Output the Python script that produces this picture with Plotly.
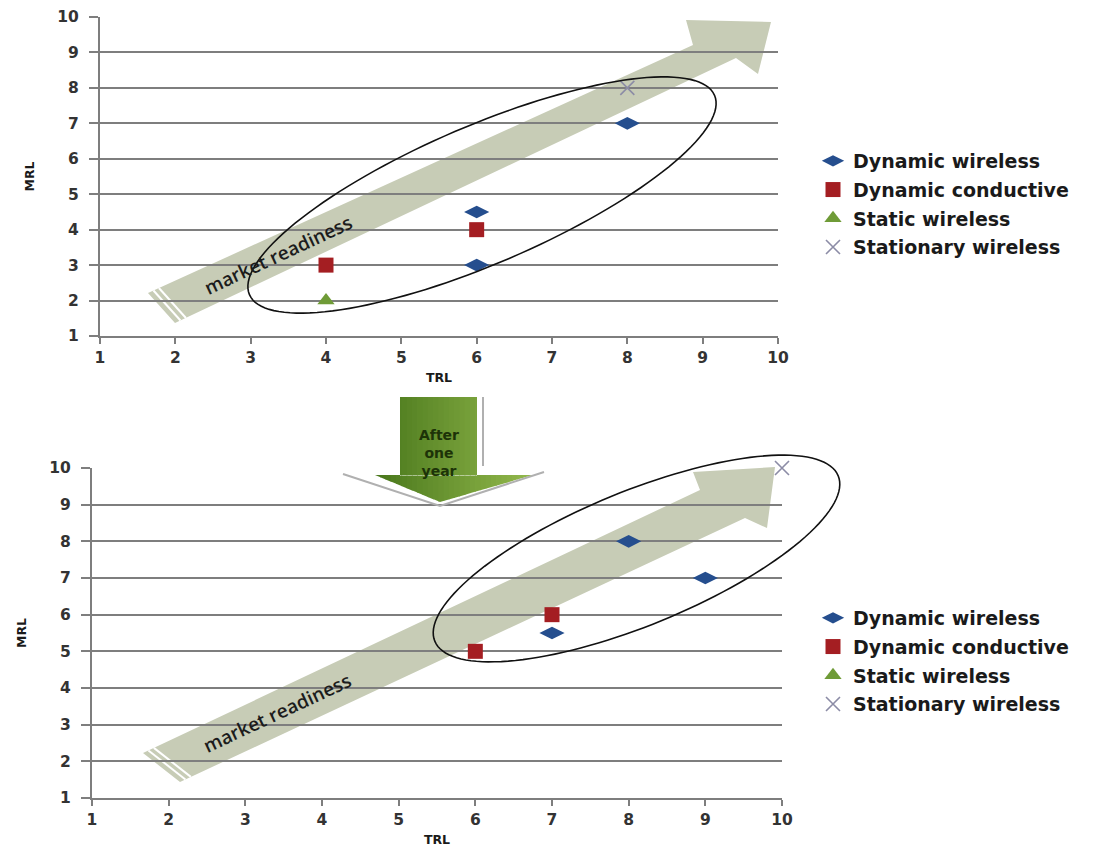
import math
import plotly.graph_objects as go

W, H = 1095, 857
OFF = 8  # page body margin of the browser

# ---------------- data ----------------
series_names = ["Dynamic wireless", "Dynamic conductive", "Static wireless", "Stationary wireless"]

# before (top chart)
top_dyn_wireless_trl = [6, 6, 8]
top_dyn_wireless_mrl = [4.5, 3, 7]
top_dyn_conductive_trl = [4, 6]
top_dyn_conductive_mrl = [3, 4]
top_static_wireless_trl = [4]
top_static_wireless_mrl = [2]
top_stationary_wireless_trl = [8]
top_stationary_wireless_mrl = [8]

# after one year (bottom chart)
bot_dyn_wireless_trl = [7, 8, 9]
bot_dyn_wireless_mrl = [5.5, 8, 7]
bot_dyn_conductive_trl = [6, 7]
bot_dyn_conductive_mrl = [5, 6]
bot_static_wireless_trl = []
bot_static_wireless_mrl = []
bot_stationary_wireless_trl = [10]
bot_stationary_wireless_mrl = [10]

tick_values = list(range(1, 11))
axis_range = [1, 10]

# ---------------- styles ----------------
symbols = ["diamond-wide", "square", "triangle-up", "x-thin"]
sizes = [18, 15, 15, 14]
colors = ["#254e8e", "#a41e22", "#6f9b37", "#8c8ca6"]
FONT = "DejaVu Sans"

# plot areas in pixels (left, right, top, bottom)
TOP_AREA = (100, 778, 17, 336)
BOT_AREA = (92, 782, 468, 798)


def px2paper(px, py):
    return (px - OFF) / W, 1 - (py - OFF) / H


fig = go.Figure()

top_sets = [
    (top_dyn_wireless_trl, top_dyn_wireless_mrl),
    (top_dyn_conductive_trl, top_dyn_conductive_mrl),
    (top_static_wireless_trl, top_static_wireless_mrl),
    (top_stationary_wireless_trl, top_stationary_wireless_mrl),
]
bot_sets = [
    (bot_dyn_wireless_trl, bot_dyn_wireless_mrl),
    (bot_dyn_conductive_trl, bot_dyn_conductive_mrl),
    (bot_static_wireless_trl, bot_static_wireless_mrl),
    (bot_stationary_wireless_trl, bot_stationary_wireless_mrl),
]


def marker(i):
    if symbols[i] == "x-thin":
        return dict(symbol=symbols[i], size=sizes[i], color=colors[i],
                    line=dict(color=colors[i], width=1.6))
    return dict(symbol=symbols[i], size=sizes[i], color=colors[i],
                line=dict(width=0))


def add_set(sets, xa, ya, leg, grp):
    for i, (xs, ys) in enumerate(sets):
        # an empty series keeps its legend entry
        xs_ = xs if len(xs) else [None]
        ys_ = ys if len(ys) else [None]
        fig.add_trace(go.Scatter(x=xs_, y=ys_, mode="markers", name=series_names[i],
                                 marker=marker(i), xaxis=xa, yaxis=ya,
                                 legend=leg, legendgroup=grp + str(i),
                                 cliponaxis=False))


add_set(top_sets, "x", "y", "legend", "t")
add_set(bot_sets, "x2", "y2", "legend2", "b")

TICKFONT = dict(family=FONT, size=15.5, color="#333333", weight="bold")
TITLEFONT = dict(family=FONT, size=12.5, color="#1a1a1a", weight="bold")


# ---------------- axes ----------------
def xaxis_cfg(area, anchor):
    l, r, t, b = area
    return dict(domain=[(l - OFF) / W, (r - OFF) / W], range=axis_range, tickvals=tick_values,
                showgrid=False, zeroline=False, showline=True,
                linecolor="#7e7e7e", linewidth=2, ticks="outside", ticklen=6,
                tickwidth=2, tickcolor="#7e7e7e", anchor=anchor,
                tickfont=TICKFONT, ticklabeloverflow="allow",
                title=dict(text="TRL", standoff=8, font=TITLEFONT),
                automargin=False, fixedrange=True)


def yaxis_cfg(area, anchor):
    l, r, t, b = area
    return dict(domain=[1 - (b - OFF) / H, 1 - (t - OFF) / H], range=axis_range,
                tickvals=tick_values,
                showgrid=True, gridcolor="#7e7e7e", gridwidth=1.8, zeroline=False,
                showline=True, linecolor="#7e7e7e", linewidth=2, ticks="outside",
                ticklen=9, tickwidth=2, tickcolor="#7e7e7e", anchor=anchor,
                ticklabelstandoff=7, ticklabeloverflow="allow",
                tickfont=TICKFONT,
                title=dict(text="MRL", standoff=20, font=TITLEFONT),
                automargin=False, fixedrange=True)


# ---------------- decorations ----------------
shapes = []
annotations = []


def poly_path(pts, close=True):
    s = ""
    for k, (px, py) in enumerate(pts):
        x, y = px2paper(px, py)
        s += ("M" if k == 0 else "L") + "%.5f,%.5f " % (x, y)
    return s + ("Z" if close else "")


def ellipse_pts(cx, cy, a, b, theta_deg, n=140):
    th = math.radians(theta_deg)
    pts = []
    for k in range(n):
        t = 2 * math.pi * k / n
        ex, ey = a * math.cos(t), b * math.sin(t)
        px = cx + ex * math.cos(th) - ey * math.sin(th)
        py = cy - (ex * math.sin(th) + ey * math.cos(th))
        pts.append((px, py))
    return pts


ARROW_FILL = "#c7ccb6"

# market readiness arrows (pixel outlines of the decorative arrows)
top_arrow = [(148, 293), (693, 45), (686, 20), (771, 22), (758, 74), (736, 58), (175, 323)]
bot_arrow = [(143, 753), (700, 490), (693, 472), (775, 467), (767, 528), (745, 518), (180, 782)]

for arrow in (top_arrow, bot_arrow):
    shapes.append(dict(type="path", xref="paper", yref="paper", layer="below",
                       path=poly_path(arrow), fillcolor=ARROW_FILL,
                       line=dict(width=0)))
    (x0, y0), (x1, y1) = arrow[0], arrow[-1]
    ux, uy = arrow[1][0] - x0, arrow[1][1] - y0
    L = math.hypot(ux, uy)
    ux, uy = ux / L, uy / L
    for off in (6, 12):
        shapes.append(dict(type="path", xref="paper", yref="paper", layer="below",
                           path=poly_path([(x0 + ux * off, y0 + uy * off),
                                           (x1 + ux * off, y1 + uy * off)], close=False),
                           line=dict(color="white", width=2)))

# ellipses
for (cx, cy, a, b, th) in ((482, 195, 253, 69, 23.2), (636.5, 558.5, 218, 67, 22.3)):
    shapes.append(dict(type="path", xref="paper", yref="paper", layer="above",
                       path=poly_path(ellipse_pts(cx, cy, a, b, th)),
                       line=dict(color="#111111", width=1.6)))

# "After one year" arrow (white backing, green gradient bands, grey bevel lines)
shapes.append(dict(type="path", xref="paper", yref="paper", layer="above",
                   path=poly_path([(398, 394), (486, 394), (486, 474), (398, 474)]),
                   fillcolor="white", line=dict(width=0)))

SH_L, SH_R, SH_T, HB = 400, 477, 397, 475
HL, HR, TIPX, TIPY = 375, 533, 440, 502


def head_low(x):
    if x <= TIPX:
        return HB + (TIPY - HB) * (x - HL) / (TIPX - HL)
    return TIPY - (TIPY - HB) * (x - TIPX) / (HR - TIPX)


c0 = (74, 120, 28)
c1 = (146, 184, 76)
NB = 30
edges = [HL + (HR - HL) * k / NB for k in range(NB + 1)]
for k in range(NB):
    xa, xb = edges[k], edges[k + 1] + (0.8 if k < NB - 1 else 0)
    f = k / (NB - 1)
    col = "rgb(%d,%d,%d)" % tuple(round(c0[j] + (c1[j] - c0[j]) * f) for j in range(3))
    path = ""
    sa, sb = max(xa, SH_L), min(xb, SH_R)
    if sb > sa:
        path += poly_path([(sa, SH_T), (sb, SH_T), (sb, HB + 0.5), (sa, HB + 0.5)]) + " "
    pts = [(xa, HB), (xb, HB), (xb, head_low(xb))]
    if xa < TIPX < xb:
        pts.append((TIPX, TIPY))
    pts.append((xa, head_low(xa)))
    path += poly_path(pts)
    shapes.append(dict(type="path", xref="paper", yref="paper", layer="above",
                       path=path, fillcolor=col, line=dict(width=0)))

shapes.append(dict(type="path", xref="paper", yref="paper", layer="above",
                   path=poly_path([(483, 397), (483, 466)], close=False),
                   line=dict(color="#b0b0b0", width=2)))
shapes.append(dict(type="path", xref="paper", yref="paper", layer="above",
                   path=poly_path([(343, 474), (440, 506), (544, 472)], close=False),
                   line=dict(color="#b0b0b0", width=2)))

ax, ay = px2paper(439, 453)
annotations.append(dict(x=ax, y=ay, xref="paper", yref="paper", showarrow=False,
                        xanchor="center", yanchor="middle",
                        text="After<br>one<br>year", align="center",
                        font=dict(family=FONT, size=14, color="#1d3308", weight="bold")))

for (tx, ty) in ((278, 255), (277, 713)):
    ax, ay = px2paper(tx, ty)
    annotations.append(dict(x=ax, y=ay, xref="paper", yref="paper", showarrow=False,
                            xanchor="center", yanchor="middle",
                            text="market readiness", textangle=-25,
                            font=dict(family="Open Sans", size=19, color="#1c1c1c",
                                      weight=600)))

legend_font = dict(family=FONT, size=19, color="#1a1a1a", weight="bold")
lx, ly1 = px2paper(813, 142)
_, ly2 = px2paper(813, 599)

fig.update_layout(
    width=W, height=H,
    margin=dict(l=0, r=0, t=0, b=0),
    paper_bgcolor="white", plot_bgcolor="rgba(0,0,0,0)",
    xaxis=xaxis_cfg(TOP_AREA, "y"),
    yaxis=yaxis_cfg(TOP_AREA, "x"),
    xaxis2=xaxis_cfg(BOT_AREA, "y2"),
    yaxis2=yaxis_cfg(BOT_AREA, "x2"),
    legend=dict(x=lx, y=ly1, xanchor="left", yanchor="top", font=legend_font,
                tracegroupgap=1, bgcolor="rgba(0,0,0,0)"),
    legend2=dict(x=lx, y=ly2, xanchor="left", yanchor="top", font=legend_font,
                 tracegroupgap=1, bgcolor="rgba(0,0,0,0)"),
    shapes=shapes,
    annotations=annotations,
    showlegend=True,
)

fig.write_html("out.html")
